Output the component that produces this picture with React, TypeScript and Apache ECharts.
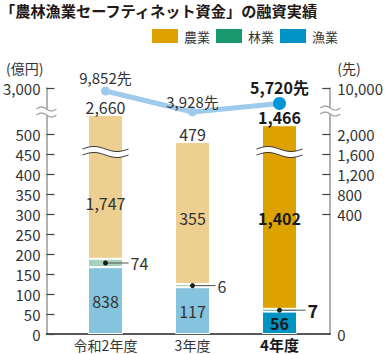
import React, { useEffect, useRef } from 'react';
import * as echarts from 'echarts';

const titleText = '「農林漁業セーフティネット資金」の融資実績';
const categories = ['令和2年度', '3年度', '4年度'];
const seriesNames = ['農業', '林業', '漁業'];

// Amounts (億円) printed on the chart
const agricultureAmount = [1747, 355, 1402];
const forestryAmount = [74, 6, 7];
const fisheryAmount = [838, 117, 56];
const totalAmount = [2660, 479, 1466];

// Segment heights as drawn against the (broken) left axis
const fisheryBar = [167, 117, 56];
const forestryBar = [21, 8, 7];
const agricultureBar = [360, 355, 459];

// Number of borrowers (先)
const borrowers = [9852, 3928, 5720];

// Axis ticks
const leftTicks = [0, 50, 100, 150, 200, 250, 300, 350, 400, 450, 500];
const leftTopLabel = '3,000';
const rightTickPos = [300, 350, 400, 450, 500];
const rightTickLabels = ['400', '800', '1,200', '1,600', '2,000'];
const rightTopLabel = '10,000';

const FONT = '"Noto Sans CJK JP", "Noto Sans", sans-serif';
const Y_MAX = 615;
const AXIS_BREAK = 555;
const BAR_BREAK = 455;

const faded = { agri: '#edd08f', forest: '#a6d2ba', fish: '#85c3de' };
const current = { agri: '#dda100', forest: '#1a986e', fish: '#0094c4' };
const TEXT = '#333333';
const last = categories.length - 1;
const fmt = (v: number) => v.toLocaleString('en-US');

function wave(x0: number, x1: number, yc: number, amp: number) {
  const pts: number[][] = [];
  const n = 24;
  for (let k = 0; k <= n; k++) {
    const t = k / n;
    pts.push([x0 + (x1 - x0) * t, yc - amp * Math.sin(2 * Math.PI * t)]);
  }
  return pts;
}

function breakShape(cx: number, cy: number, half: number, gap: number, amp: number, stroke: string, lw: number) {
  const up = wave(cx - half, cx + half, cy - gap / 2, amp);
  const lo = wave(cx - half, cx + half, cy + gap / 2, amp);
  return [
    { type: 'polygon', shape: { points: up.concat(lo.slice().reverse()) }, style: { fill: '#ffffff' } },
    { type: 'polyline', shape: { points: up }, style: { stroke, lineWidth: lw, fill: 'none' } },
    { type: 'polyline', shape: { points: lo }, style: { stroke, lineWidth: lw, fill: 'none' } },
  ];
}

function barSeries(name: string, heights: number[], amounts: number[] | null, key: 'agri' | 'forest' | 'fish', labelOffsets?: number[]) {
  return {
    name,
    type: 'bar',
    stack: 'total',
    barWidth: 35,
    xAxisIndex: 1,
    yAxisIndex: 2,
    itemStyle: { color: current[key], borderColor: '#ffffff', borderWidth: 1 },
    data: heights.map((h, i) => ({
      value: h,
      itemStyle: { color: i === last ? current[key] : faded[key] },
      label: {
        offset: [0, labelOffsets ? labelOffsets[i] : 0],
        fontWeight: i === last ? 'bold' : 'normal',
        color: i === last ? '#1a1a1a' : TEXT,
      },
    })),
    label: amounts
      ? {
          show: true,
          position: 'inside',
          fontSize: 16,
          fontFamily: FONT,
          formatter: (p: any) => fmt(amounts[p.dataIndex]),
        }
      : { show: false },
    z: 2,
  };
}

export default function App() {
  const ref = useRef<HTMLDivElement>(null);
  useEffect(() => {
    document.body.style.margin = '0';
    if (!ref.current) return;
    const chart = echarts.init(ref.current, null, { renderer: 'svg' });
    const option: any = {
      animation: false,
      textStyle: { fontFamily: FONT },
      title: {
        text: titleText,
        left: 0,
        top: 2,
        padding: 0,
        textStyle: { fontSize: 15.2, fontWeight: 'bold', color: '#231815', fontFamily: FONT },
      },
      legend: {
        data: seriesNames,
        left: 150,
        top: 27,
        padding: 0,
        itemWidth: 28,
        itemHeight: 16,
        itemGap: 4,
        icon: 'rect',
        textStyle: { fontSize: 13, color: TEXT, fontFamily: FONT },
      },
      grid: [
        { left: 45, right: 55, top: 88, bottom: 20, containLabel: false },
        { left: 62, right: 63, top: 88, bottom: 20, containLabel: false },
      ],
      xAxis: [
        {
          type: 'value',
          gridIndex: 0,
          min: 0,
          max: 1,
          axisLine: { show: true, onZero: false, lineStyle: { color: '#222222', width: 1.5 } },
          axisTick: { show: false },
          axisLabel: { show: false },
          splitLine: { show: false },
        },
        {
          type: 'category',
          gridIndex: 1,
          data: categories,
          axisLine: { show: false },
          axisTick: { show: false },
          splitLine: { show: false },
          axisLabel: {
            margin: 3,
            fontSize: 14,
            lineHeight: 15,
            color: TEXT,
            fontFamily: FONT,
            formatter: (v: string, i: number) => (i === last ? `{b|${v}}` : v),
            rich: { b: { fontSize: 15, lineHeight: 15, fontWeight: 'bold', color: '#1a1a1a', fontFamily: FONT } },
          },
        },
      ],
      yAxis: [
        {
          type: 'value',
          gridIndex: 0,
          position: 'left',
          min: 0,
          max: Y_MAX,
          name: '(億円)',
          nameLocation: 'end',
          nameGap: 13,
          nameTextStyle: { align: 'right', fontSize: 14, color: TEXT, padding: [0, 3, 0, 0], fontFamily: FONT },
          axisLine: { show: true, onZero: false, lineStyle: { color: '#999999', width: 1.5 } },
          axisTick: { show: true, inside: true, length: 8, customValues: [...leftTicks, Y_MAX], lineStyle: { color: '#444444', width: 1.2 } },
          axisLabel: {
            customValues: [...leftTicks, Y_MAX],
            margin: 6,
            fontSize: 15,
            color: TEXT,
            fontFamily: FONT,
            formatter: (v: number) => (v === Y_MAX ? leftTopLabel : String(v)),
          },
          splitLine: { show: false },
        },
        {
          type: 'value',
          gridIndex: 0,
          position: 'right',
          min: 0,
          max: Y_MAX,
          name: '(先)',
          nameLocation: 'end',
          nameGap: 13,
          nameTextStyle: { align: 'left', fontSize: 14, color: TEXT, padding: [0, 0, 0, 7], fontFamily: FONT },
          axisLine: { show: true, onZero: false, lineStyle: { color: '#999999', width: 1.5 } },
          axisTick: { show: true, inside: true, length: 8, customValues: [...rightTickPos, Y_MAX], lineStyle: { color: '#444444', width: 1.2 } },
          axisLabel: {
            customValues: [0, ...rightTickPos, Y_MAX],
            margin: 7,
            fontSize: 15,
            color: TEXT,
            fontFamily: FONT,
            formatter: (v: number) =>
              v === 0 ? '0' : v === Y_MAX ? rightTopLabel : rightTickLabels[rightTickPos.indexOf(v)],
          },
          splitLine: { show: false },
        },
        {
          type: 'value',
          gridIndex: 1,
          min: 0,
          max: Y_MAX,
          show: false,
        },
        {
          type: 'log',
          gridIndex: 1,
          logBase: 10,
          min: 0.2317,
          max: 11237,
          show: false,
        },
      ],
      series: [
        barSeries('漁業', fisheryBar, fisheryAmount, 'fish'),
        barSeries('林業', forestryBar, null, 'forest'),
        barSeries('農業', agricultureBar, agricultureAmount, 'agri', [16, 5, 1]),
        {
          name: 'total',
          type: 'bar',
          stack: 'total',
          barWidth: 35,
          xAxisIndex: 1,
          yAxisIndex: 2,
          itemStyle: { color: 'transparent' },
          data: totalAmount.map((_, i) => ({
            value: 0,
            label: {
              fontWeight: i === last ? 'bold' : 'normal',
              color: i === last ? '#1a1a1a' : TEXT,
            },
          })),
          label: {
            show: true,
            position: 'top',
            distance: 0,
            fontSize: 16,
            fontFamily: FONT,
            formatter: (p: any) => fmt(totalAmount[p.dataIndex]),
          },
        },
        {
          name: 'borrowers',
          type: 'line',
          xAxisIndex: 1,
          yAxisIndex: 3,
          symbol: 'circle',
          symbolSize: 9,
          lineStyle: { color: '#9ecbeb', width: 5 },
          itemStyle: { color: '#9ecbeb' },
          data: borrowers.map((v, i) => ({
            value: v,
            symbolSize: i === last ? 13 : 9,
            itemStyle: { color: i === last ? '#0096d6' : '#9ecbeb' },
            label: {
              distance: i === 0 ? 1 : i === last ? 1.5 : -2,
              fontWeight: i === last ? 'bold' : 'normal',
              fontSize: i === last ? 16 : 15,
              color: i === last ? '#1a1a1a' : TEXT,
            },
          })),
          label: {
            show: true,
            position: 'top',
            fontFamily: FONT,
            formatter: (p: any) => fmt(borrowers[p.dataIndex]) + '先',
          },
          z: 5,
        },
        {
          name: 'forestryCallout',
          type: 'custom',
          xAxisIndex: 1,
          yAxisIndex: 2,
          z: 6,
          data: categories.map((_, i) => [i, fisheryBar[i] + forestryBar[i] / 2, forestryAmount[i]]),
          renderItem: (params: any, api: any) => {
            const i = api.value(0);
            const p = api.coord([i, api.value(1)]);
            const isLast = i === last;
            return {
              type: 'group',
              children: [
                { type: 'line', shape: { x1: p[0], y1: p[1], x2: p[0] + (isLast ? 26 : 23), y2: p[1] }, style: { stroke: '#555555', lineWidth: 1 } },
                { type: 'circle', shape: { cx: p[0], cy: p[1], r: 2.5 }, style: { fill: '#1a1a1a' } },
                {
                  type: 'text',
                  style: {
                    text: String(api.value(2)),
                    x: p[0] + (isLast ? 28 : 25),
                    y: p[1],
                    align: 'left',
                    verticalAlign: 'middle',
                    fill: isLast ? '#1a1a1a' : TEXT,
                    fontSize: isLast ? 18 : 16,
                    fontWeight: isLast ? 'bold' : 'normal',
                    fontFamily: FONT,
                  },
                },
              ],
            };
          },
        },
        {
          name: 'barBreaks',
          type: 'custom',
          xAxisIndex: 1,
          yAxisIndex: 2,
          z: 7,
          data: categories.map((_, i) => [i, BAR_BREAK]).filter((_, i) => totalAmount[i] > leftTicks[leftTicks.length - 1]),
          renderItem: (params: any, api: any) => {
            const p = api.coord([api.value(0), api.value(1)]);
            return { type: 'group', children: breakShape(p[0], p[1], 23, 6, 2.5, '#333333', 1) };
          },
        },
        {
          name: 'axisBreaks',
          type: 'custom',
          xAxisIndex: 0,
          yAxisIndex: 0,
          z: 7,
          data: [[0, AXIS_BREAK]],
          renderItem: (params: any, api: any) => {
            const l = api.coord([0, AXIS_BREAK]);
            const r = api.coord([1, AXIS_BREAK]);
            return {
              type: 'group',
              children: [
                ...breakShape(l[0], l[1], 10, 6, 2, '#999999', 1.2),
                ...breakShape(r[0], r[1] - 1, 10, 6, 2, '#999999', 1.2),
              ],
            };
          },
        },
      ],
    };
    chart.setOption(option);
    return () => chart.dispose();
  }, []);
  return <div ref={ref} style={{ width: 386, height: 354 }} />;
}
